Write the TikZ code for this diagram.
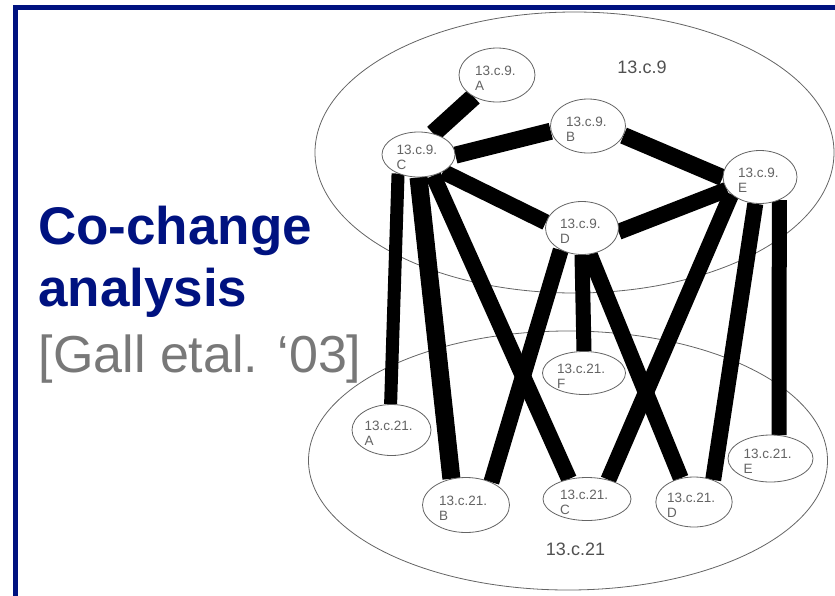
\documentclass[tikz,border=0pt]{standalone}
\usepackage{fontspec}
\setmainfont{Liberation Sans}
\usetikzlibrary{shapes.geometric}
\usetikzlibrary{backgrounds}

\definecolor{slideblue}{RGB}{0,18,128}
\definecolor{citegray}{RGB}{120,120,120}
\definecolor{nodegray}{RGB}{100,100,100}

\begin{document}
\begin{tikzpicture}[x=1pt,y=-1pt,
  nd/.style={ellipse,draw=nodegray,fill=white,line width=0.8pt,inner sep=0pt,
    align=left,text width=44pt,text depth=9pt,
    font=\fontsize{13.5}{15}\selectfont,text=nodegray},
  nd21/.style={nd,text width=54pt},
  link/.style={line width=16pt},
  group/.style={draw=nodegray,line width=0.8pt},
  grouplabel/.style={inner sep=0pt,font=\fontsize{18}{20}\selectfont,text=nodegray!80!black}]
\useasboundingbox (0,0) rectangle (835,595);

% slide frame
\draw[slideblue,line width=5pt] (840,7.5) -| (15,600);

% title
\node[anchor=base west,inner sep=0pt,text=slideblue,font=\fontsize{53}{60}\selectfont\bfseries] (ttl1) at (38,244) {Co-change};
\node[anchor=base west,inner sep=0pt,text=slideblue,font=\fontsize{53}{60}\selectfont\bfseries] (ttl2) at (38,306) {analysis};
\node[anchor=base west,inner sep=0pt,text=citegray,font=\fontsize{52}{60}\selectfont] (cite) at (38.5,372) {[Gall etal. ‘03]};

% modules of 13.c.9
\node[nd,minimum width=76pt,minimum height=54pt] (c9A) at (497,75) {13.c.9.\\A};
\node[nd,minimum width=75pt,minimum height=54pt] (c9B) at (588,126) {13.c.9.\\B};
\node[nd,minimum width=73pt,minimum height=45pt] (c9C) at (418.5,154.5) {13.c.9.\\C};
\node[nd,minimum width=73pt,minimum height=53pt] (c9D) at (582,228) {13.c.9.\\D};
\node[nd,minimum width=74pt,minimum height=53pt] (c9E) at (760,177) {13.c.9.\\E};

% modules of 13.c.21
\node[nd21,minimum width=83pt,minimum height=43pt] (c21F) at (584,373) {13.c.21.\\F};
\node[nd21,minimum width=79pt,minimum height=51pt] (c21A) at (391.5,430) {13.c.21.\\A};
\node[nd21,minimum width=87pt,minimum height=55pt] (c21B) at (466,505) {13.c.21.\\B};
\node[nd21,minimum width=88pt,minimum height=43pt] (c21C) at (587,499) {13.c.21.\\C};
\node[nd21,minimum width=75pt,minimum height=50pt] (c21D) at (694,502) {13.c.21.\\D};
\node[nd21,minimum width=85pt,minimum height=47pt] (c21E) at (770.5,458.5) {13.c.21.\\E};

\node[grouplabel] (lbl9) at (642,67) {13.c.9};
\node[grouplabel] (lbl21) at (575.5,549) {13.c.21};

\begin{pgfonlayer}{background}
% the two releases
\draw[group] (574.5,152.5) ellipse [x radius=259.5pt,y radius=140.5pt];
\draw[group] (568,460.5) ellipse [x radius=259.5pt,y radius=129.5pt];

% co-change links
\draw[link,line width=18pt] (c9A.-137) -- (c9C.55);
\draw[link,line width=17pt] (c9C.-1) -- (c9B.188);
\draw[link,line width=17pt] (c9B.-15) -- (c9E.181);
\draw[link] (c9C.-35) -- (c9D.171);
\draw[link] (c9D.-6) -- (c9E.201);
\draw[link,line width=13pt] (c9C.-137) -- (c21A.92);
\draw[link,line width=18pt] (c9C.south) -- (c21B.119);
\draw[link] (c9C.-55) -- (c21C.132);
\draw[link] (c9D.-134) -- (c21B.42);
\draw[link,line width=15pt] (c9D.south) -- (c21F.north);
\draw[link] (c9D.-74) -- (c21D.119);
\draw[link] (c9E.-149) -- (c21C.42);
\draw[link] (c9E.-100) -- (c21D.49);
\draw[link,line width=15pt] (c9E.-50) -- (c21E.70);
\end{pgfonlayer}

\end{tikzpicture}
\end{document}
